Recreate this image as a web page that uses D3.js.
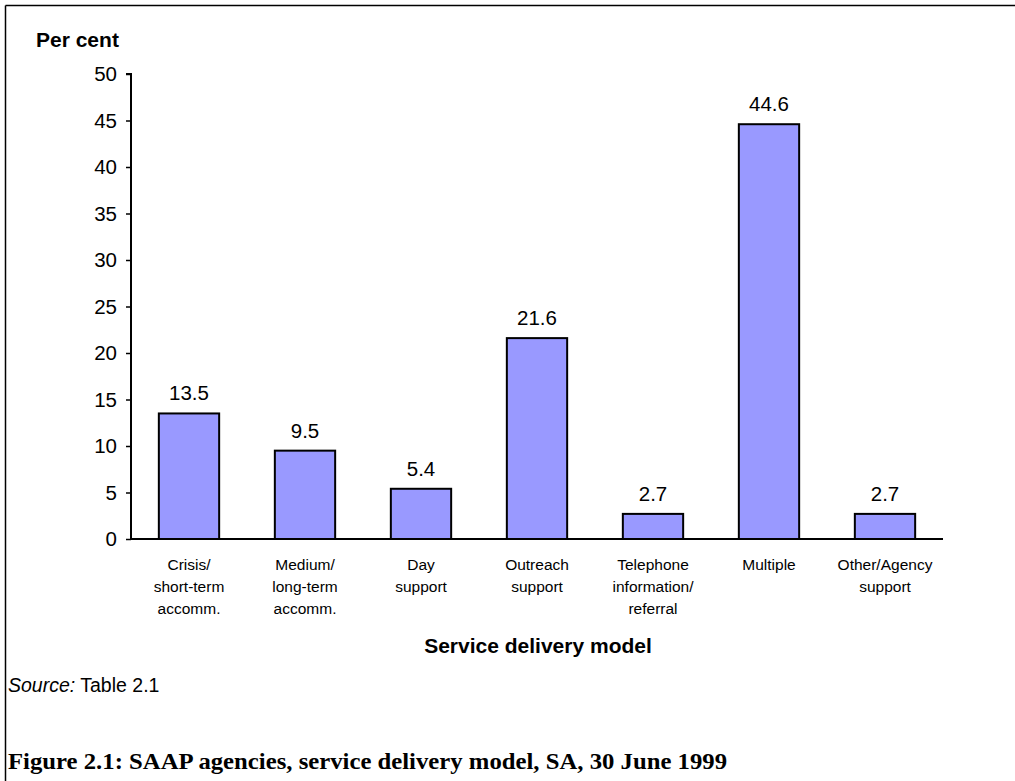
<!DOCTYPE html>
<html><head><meta charset="utf-8">
<script src="https://cdn.jsdelivr.net/npm/d3@7"></script>
<style>body{margin:0;background:#fff}svg{display:block}</style>
</head><body>
<script>
const categories = [
  ["Crisis/","short-term","accomm."],
  ["Medium/","long-term","accomm."],
  ["Day","support"],
  ["Outreach","support"],
  ["Telephone","information/","referral"],
  ["Multiple"],
  ["Other/Agency","support"]
];
const values = [13.5, 9.5, 5.4, 21.6, 2.7, 44.6, 2.7];
const yTicks = [0,5,10,15,20,25,30,35,40,45,50];

const W = 1015, H = 781;
const svg = d3.select("body").append("svg").attr("width", W).attr("height", H);
const font = "Arial, 'Liberation Sans', sans-serif";

// frame
svg.append("line").attr("x1",5.5).attr("x2",W).attr("y1",5.5).attr("y2",5.5).attr("stroke","#000").attr("stroke-width",1.5);
svg.append("line").attr("x1",5.5).attr("x2",5.5).attr("y1",5.5).attr("y2",H).attr("stroke","#000").attr("stroke-width",1.5);

const x0 = 131, x1 = 943, yTop = 74, yBot = 539;
const x = d3.scaleBand().domain(d3.range(categories.length)).range([x0, x1]).paddingInner(0.48).paddingOuter(0.24);
const y = d3.scaleLinear().domain([0, 50]).range([yBot, yTop]);

// bars
svg.selectAll("rect.bar").data(values).enter().append("rect")
  .attr("x", (d,i)=>x(i)).attr("width", x.bandwidth())
  .attr("y", d=>y(d)).attr("height", d=>yBot - y(d))
  .attr("fill","#9999FF").attr("stroke","#000").attr("stroke-width",2);

// value labels
svg.selectAll("text.val").data(values).enter().append("text")
  .attr("x",(d,i)=>x(i)+x.bandwidth()/2).attr("y", d=>y(d)-13)
  .attr("text-anchor","middle").attr("font-family",font).attr("font-size",20.5)
  .text(d=>d3.format(".1f")(d));

// y axis
const yAxis = d3.axisLeft(y).tickValues(yTicks).tickSize(5).tickPadding(9).tickFormat(d3.format("d"));
const gy = svg.append("g").attr("transform",`translate(${x0},0)`).call(yAxis);
gy.select(".domain").attr("stroke","#000").attr("stroke-width",2).attr("d",`M-5,${yTop}H0V${yBot}`);
gy.selectAll(".tick line").attr("stroke","#000").attr("stroke-width",1.5);
gy.selectAll(".tick text").attr("font-family",font).attr("font-size",20.5).attr("fill","#000");

// x axis
const xAxis = d3.axisBottom(x).tickSize(0).tickFormat("");
const gx = svg.append("g").attr("transform",`translate(0,${yBot})`).call(xAxis);
gx.select(".domain").attr("stroke","#000").attr("stroke-width",2).attr("d",`M${x0},0H${x1}`);
gx.selectAll(".tick").each(function(d){
  const t = d3.select(this).append("text").attr("font-family",font).attr("font-size",15.5)
    .attr("fill","#000").attr("text-anchor","middle");
  categories[d].forEach((line,k)=>{
    t.append("tspan").attr("x",0).attr("y",31 + k*22).text(line);
  });
});

// titles
svg.append("text").attr("x",36).attr("y",47).attr("font-family",font).attr("font-size",21).attr("font-weight","bold").text("Per cent");
svg.append("text").attr("x",538).attr("y",653).attr("text-anchor","middle").attr("font-family",font).attr("font-size",21).attr("font-weight","bold").text("Service delivery model");

const src = svg.append("text").attr("x",8).attr("y",692).attr("font-family",font).attr("font-size",19.5);
src.append("tspan").attr("font-style","italic").text("Source:");
src.append("tspan").text(" Table 2.1");

svg.append("text").attr("x",8).attr("y",769).attr("font-family","'Liberation Serif', 'DejaVu Serif', serif").attr("font-size",23).attr("font-weight","bold")
  .attr("textLength",719).attr("lengthAdjust","spacingAndGlyphs")
  .text("Figure 2.1: SAAP agencies, service delivery model, SA, 30 June 1999");
</script>
</body></html>
